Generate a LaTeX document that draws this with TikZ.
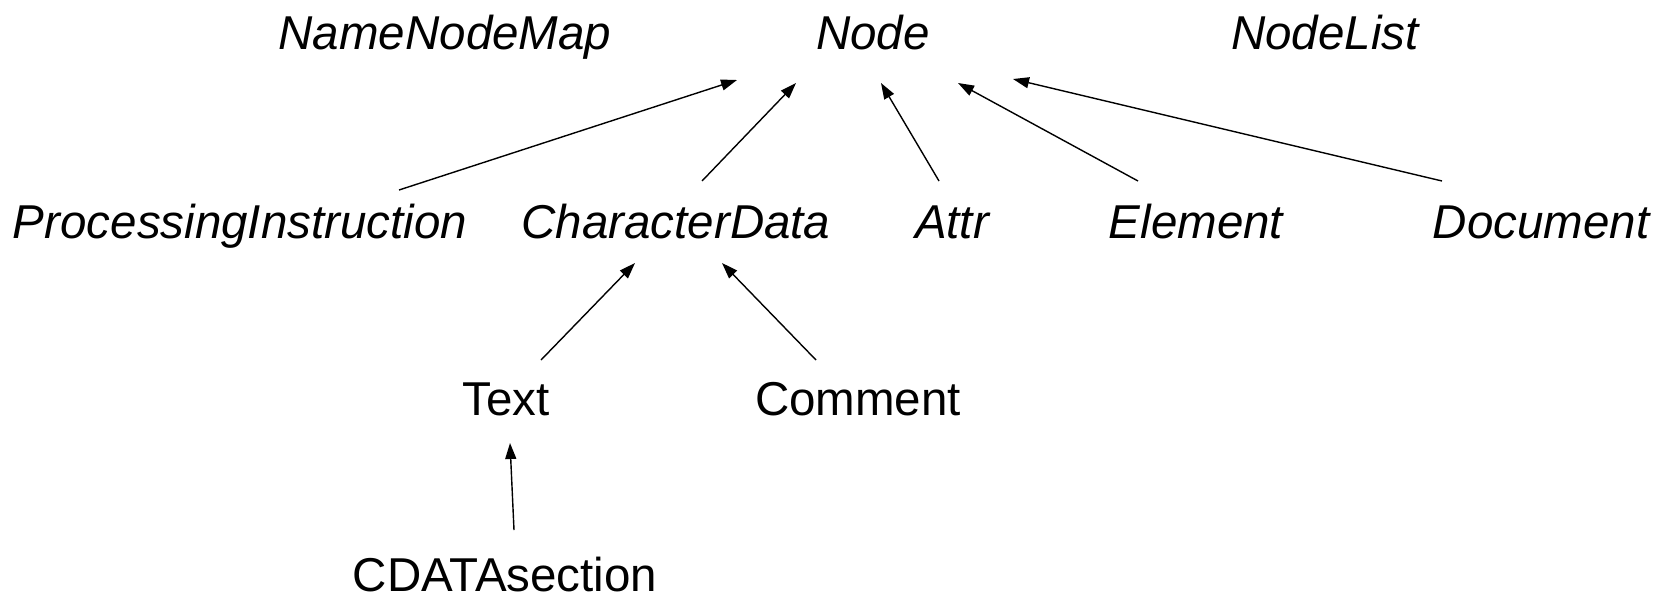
\documentclass[tikz,border=0pt]{standalone}
\usepackage{fontspec}
\setmainfont{Liberation Sans}
\usetikzlibrary{arrows.meta}
\begin{document}
\begin{tikzpicture}[x=1pt,y=-1pt,
  cls/.style={anchor=base,inner sep=0pt,font=\fontsize{47.5}{57}\selectfont},
  abs/.style={cls,font=\fontsize{47.5}{57}\selectfont\itshape},
  inherit/.style={line width=1.4pt,-{Triangle[length=16pt,width=11pt]}}]
\useasboundingbox (0,0) rectangle (1669,598);
% interface names
\node[abs] (map)  at (445,49) {NameNodeMap};
\node[abs] (node) at (873,49) {Node};
\node[abs] (list) at (1325,49) {NodeList};
\node[abs] (pi)   at (240,238) {ProcessingInstruction};
\node[abs] (cd)   at (676,238) {CharacterData};
\node[abs] (attr) at (952,238) {Attr};
\node[abs] (elem) at (1196,238) {Element};
\node[abs] (doc)  at (1541,238) {Document};
\node[cls] (text) at (506,415) {Text};
\node[cls] (comm) at (858,415) {Comment};
\node[cls] (cdata) at (505,591) {CDATAsection};
% connector ends
\coordinate (pi-s)   at (399,190);  \coordinate (node-a) at (737,80);
\coordinate (cd-s)   at (702,181);  \coordinate (node-b) at (796,83);
\coordinate (attr-s) at (939,181);  \coordinate (node-c) at (881,83);
\coordinate (elem-s) at (1138,181); \coordinate (node-d) at (958,83);
\coordinate (doc-s)  at (1442,181); \coordinate (node-e) at (1013,79);
\coordinate (text-s) at (541,360);  \coordinate (cd-a)   at (635,263);
\coordinate (comm-s) at (816,360);  \coordinate (cd-b)   at (722,263);
\coordinate (cdata-s) at (514,530); \coordinate (text-a) at (510,443);
% inheritance arrows
\draw[inherit] (pi-s) -- (node-a);
\draw[inherit] (cd-s) -- (node-b);
\draw[inherit] (attr-s) -- (node-c);
\draw[inherit] (elem-s) -- (node-d);
\draw[inherit] (doc-s) -- (node-e);
\draw[inherit] (text-s) -- (cd-a);
\draw[inherit] (comm-s) -- (cd-b);
\draw[inherit] (cdata-s) -- (text-a);
\end{tikzpicture}
\end{document}
